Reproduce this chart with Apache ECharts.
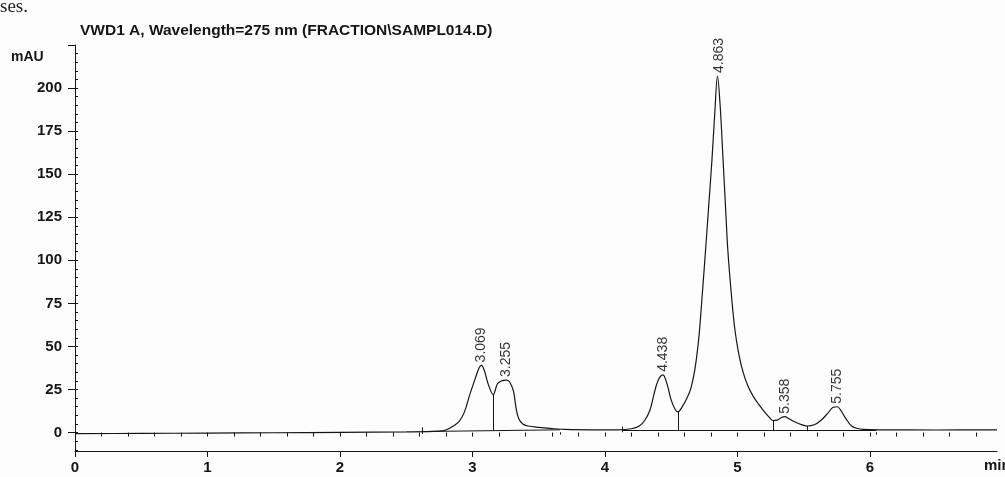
<!DOCTYPE html>
<html>
<head>
<meta charset="utf-8">
<script src="https://cdn.jsdelivr.net/npm/echarts@6/dist/echarts.min.js"></script>
<style>
  html, body { margin: 0; padding: 0; background: #fdfdfd; }
  #chart { width: 1005px; height: 477px; }
</style>
</head>
<body>
<div id="chart"></div>
<script>
// chromatogram trace (min, mAU)
var traceTime = [0, 0.5, 1.0, 1.5, 2.0, 2.5, 2.75, 2.80, 2.85, 2.90, 2.94, 2.98, 3.02, 3.05, 3.069,
    3.09, 3.12, 3.157, 3.19, 3.22, 3.255, 3.28, 3.31, 3.33, 3.35, 3.38, 3.42, 3.5, 3.6, 3.7, 3.9,
    4.1, 4.2, 4.26, 4.30, 4.34, 4.37, 4.40, 4.438, 4.47, 4.50, 4.53, 4.551, 4.58, 4.62, 4.65,
    4.68, 4.709, 4.735, 4.760, 4.785, 4.808, 4.83, 4.85, 4.87, 4.891, 4.91, 4.928, 4.955, 4.981,
    5.01, 5.04, 5.08, 5.12, 5.16, 5.20, 5.24, 5.268, 5.30, 5.33, 5.358, 5.39, 5.44, 5.49, 5.53,
    5.58, 5.63, 5.68, 5.72, 5.755, 5.78, 5.82, 5.86, 5.90, 5.95, 6.1, 6.5, 6.96];
var traceMAU = [-0.6, -0.5, -0.3, -0.1, 0.1, 0.4, 0.8, 1.5, 3.5, 6.5, 12, 22, 31, 37.5, 39,
    36, 28, 22, 28.5, 30, 30.5, 29.5, 24, 14, 8, 5, 3.8, 3.0, 2.3, 1.8, 1.6,
    1.6, 2.2, 3.8, 7, 13, 22, 30, 33.5, 28, 19, 13.5, 12, 14.5, 20, 26,
    37, 55, 80, 106, 133, 158, 186, 207, 190, 160, 132, 106, 80, 60,
    46, 36, 27, 21, 16.5, 12.5, 9, 7, 7.2, 8.6, 9.2, 8, 6, 4.5, 3.8,
    4.5, 7, 11, 14.5, 15, 13, 8, 4, 2.5, 1.8, 1.6, 1.5, 1.6];

// peak apex labels
var peakTimes = [3.069, 3.255, 4.438, 4.863, 5.358, 5.755];
var peakMAU = [39, 30.5, 33.5, 207, 9.2, 15];
var peakNames = ['3.069', '3.255', '4.438', '4.863', '5.358', '5.755'];

// integration baseline pieces [t1, v1, t2, v2]
var baseSegments = [
    [2.62, 0.6, 3.66, 1.6],
    [4.13, 1.6, 6.05, 1.6],
    [3.157, 22, 3.157, 1.0],
    [4.551, 12, 4.551, 1.0],
    [5.268, 7, 5.268, 0.8],
    [5.53, 3.8, 5.53, 0.8],
    [2.62, -0.8, 2.62, 3.0],
    [3.66, 0.2, 3.66, -1.2],
    [4.13, 0.2, 4.13, 3.5],
    [6.05, 0.2, 6.05, -1.2]
];

var yTicks = [0, 25, 50, 75, 100, 125, 150, 175, 200];
var xTicks = [0, 1, 2, 3, 4, 5, 6];

var yMinor = [];
for (var v = -10; v <= 220; v += 5) yMinor.push(v);
var xMinor = [];
for (var i = 0; i <= 34; i++) xMinor.push(+(i * 0.2).toFixed(1));

var trace = traceTime.map(function (t, k) { return [t, traceMAU[k]]; });
var peaks = peakTimes.map(function (t, k) { return { value: [t, peakMAU[k]], name: peakNames[k] }; });
var segs = baseSegments.map(function (s) {
    return [{ coord: [s[0], s[1]] }, { coord: [s[2], s[3]] }];
});

var font = '"Liberation Sans", Arial, sans-serif';
var ink = '#151515';

var chart = echarts.init(document.getElementById('chart'));
chart.setOption({
    animation: false,
    backgroundColor: '#fdfdfd',
    title: {
        text: 'VWD1 A, Wavelength=275 nm (FRACTION\\SAMPL014.D)',
        left: 75, top: 18,
        textStyle: { fontFamily: font, fontSize: 15.5, fontWeight: 'bold', color: ink }
    },
    graphic: [
        { type: 'text', left: 0, top: -2, style: { text: 'ses.', font: '19px "Liberation Serif", serif', fill: '#222' } },
        { type: 'text', left: 11, top: 50, style: { text: 'mAU', font: 'bold 14px "Liberation Sans", Arial', fill: ink } },
        { type: 'text', left: 984, top: 458, style: { text: 'min', font: 'bold 15px "Liberation Sans", Arial', fill: ink } }
    ],
    grid: { left: 75, right: 8, top: 45, bottom: 26 },
    xAxis: [{
        type: 'value', min: 0, max: 6.96,
        axisLine: { onZero: false, lineStyle: { color: ink, width: 1 } },
        splitLine: { show: false },
        axisTick: { customValues: xTicks, length: 6, lineStyle: { color: ink } },
        axisLabel: { customValues: xTicks, margin: 9, fontFamily: font, fontSize: 15, fontWeight: 'bold', color: ink }
    }, {
        type: 'value', min: 0, max: 6.96, position: 'bottom',
        axisLine: { show: false },
        splitLine: { show: false },
        axisTick: { customValues: xMinor, length: 4, lineStyle: { color: ink } },
        axisLabel: { show: false }
    }],
    yAxis: [{
        type: 'value', min: -10.7, max: 225,
        axisLine: { show: true, onZero: false, lineStyle: { color: ink, width: 1 } },
        splitLine: { show: false },
        axisTick: { customValues: yTicks.concat([225]), length: 7, lineStyle: { color: ink } },
        axisLabel: { customValues: yTicks, margin: 13, fontFamily: font, fontSize: 15, fontWeight: 'bold', color: ink }
    }, {
        type: 'value', min: -10.7, max: 225, position: 'left',
        axisLine: { show: false },
        splitLine: { show: false },
        axisTick: { customValues: yMinor, inside: true, length: 3, lineStyle: { color: ink } },
        axisLabel: { show: false }
    }],
    series: [{
        type: 'line',
        data: trace,
        smooth: 0.35,
        showSymbol: false,
        lineStyle: { color: ink, width: 1.2 },
        markLine: {
            silent: true,
            symbol: 'none',
            label: { show: false },
            lineStyle: { color: ink, width: 1, type: 'solid' },
            data: segs
        }
    }, {
        type: 'scatter',
        data: peaks,
        symbolSize: 0,
        label: {
            show: true,
            position: 'top',
            distance: 3,
            rotate: 90,
            align: 'left',
            verticalAlign: 'middle',
            formatter: '{b}',
            fontFamily: font,
            fontSize: 14,
            color: '#000'
        }
    }]
});
</script>
</body>
</html>
